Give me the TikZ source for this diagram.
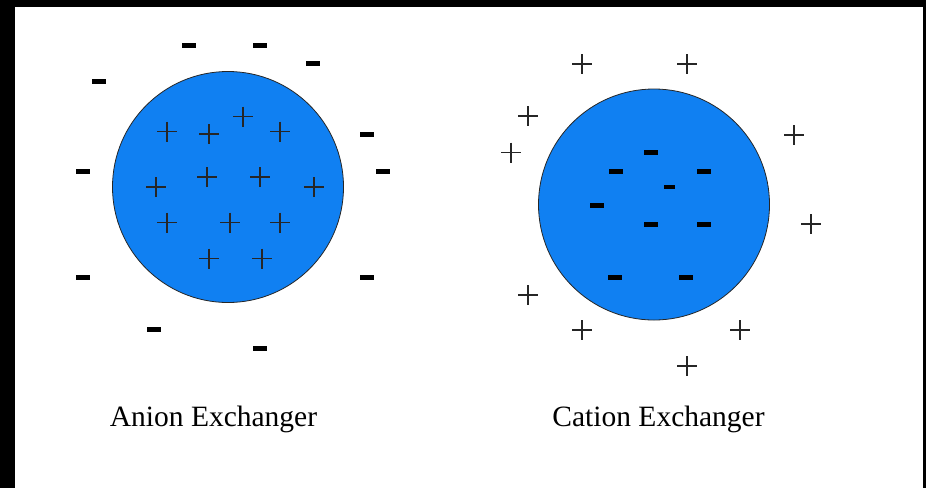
\documentclass[tikz,border=0pt]{standalone}
\usepackage{fontspec}
\setmainfont{Liberation Serif}
\definecolor{beadblue}{RGB}{16,128,242}
\begin{document}
\begin{tikzpicture}[x=1pt,y=-1pt,
  bead/.style={circle, draw=black!85, line width=0.8pt, fill=beadblue, minimum size=231pt, inner sep=0pt},
  minussign/.style={rectangle, fill=black, minimum width=14pt, minimum height=5pt, inner sep=0pt},
  smallminus/.style={minussign, minimum width=11pt, minimum height=4.5pt},
  plussign/.style={rectangle, minimum size=20pt, inner sep=0pt,
    path picture={\draw[black!85, line width=1.2pt]
      (path picture bounding box.north) -- (path picture bounding box.south)
      (path picture bounding box.west) -- (path picture bounding box.east);}},
  label/.style={anchor=base, inner sep=0pt, font=\fontsize{29.5}{35}\selectfont}]
\fill[black] (0,0) rectangle (926,488);
\fill[white] (15,7) rectangle (923,488);
\useasboundingbox (0,0) rectangle (926,488);
% anion exchanger
\node[bead] (ball1) at (228,187) {};
\foreach \x/\y [count=\i] in {243/116.7,167/131.7,209/134,280/131.7,156/187,207/177,260/177,314/187,167/222.7,230/222.7,280/222.7,209/258.7,262/258.7}
  \node[plussign] (ap\i) at (\x,\y) {};
\foreach \x/\y [count=\i] in {189/45.7,260/45.7,313/63.7,99/81.7,367/134.7,83/171,383/171,83/277,367/277,154/329.7,260/348}
  \node[minussign] (am\i) at (\x,\y) {};
\node[label] (alabel) at (213.5,426) {Anion Exchanger};
% cation exchanger
\node[bead] (ball2) at (654,204.5) {};
\foreach \x/\y [count=\i] in {651/152.7,616/171,704/171,597/205,651/224,704/224,615/277,686/277}
  \node[minussign] (cm\i) at (\x,\y) {};
\node[smallminus] (cm9) at (669,187) {};
\foreach \x/\y [count=\i] in {582/64,687/64,528/116,511/152.7,794/135,811/224,528/295,582/330,740/330,687/366}
  \node[plussign] (cp\i) at (\x,\y) {};
\node[label] (clabel) at (658.5,426) {Cation Exchanger};
\end{tikzpicture}
\end{document}
